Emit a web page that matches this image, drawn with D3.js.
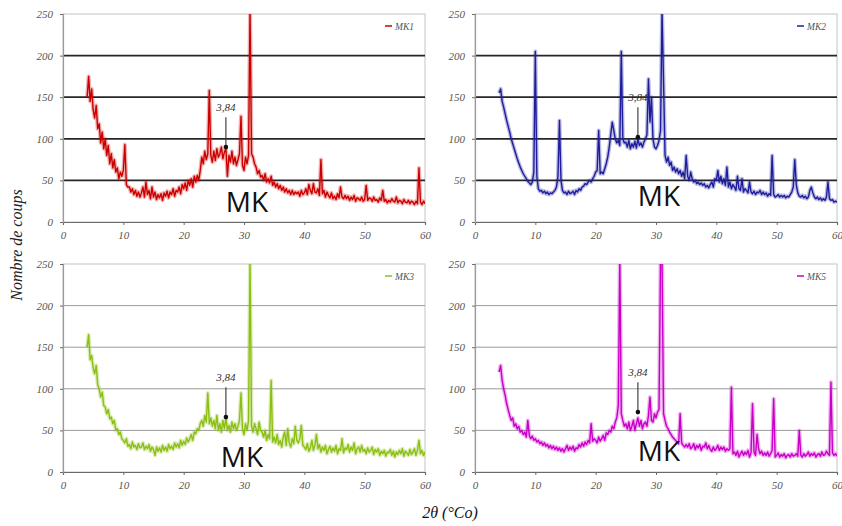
<!DOCTYPE html>
<html>
<head>
<meta charset="utf-8">
<script src="https://cdn.jsdelivr.net/npm/d3@7"></script>
<style>
  body { margin: 0; background: #fff; }
  svg { display: block; }
</style>
</head>
<body>
<svg id="chart" width="842" height="526"></svg>
<script>
// Scan angles 2θ (°), step 0.25°
const angles = [
  4,4.25,4.5,4.75, 5,5.25,5.5,5.75, 6,6.25,6.5,6.75, 7,7.25,7.5,7.75,
  8,8.25,8.5,8.75, 9,9.25,9.5,9.75, 10,10.25,10.5,10.75, 11,11.25,11.5,11.75,
  12,12.25,12.5,12.75, 13,13.25,13.5,13.75, 14,14.25,14.5,14.75, 15,15.25,15.5,15.75,
  16,16.25,16.5,16.75, 17,17.25,17.5,17.75, 18,18.25,18.5,18.75, 19,19.25,19.5,19.75,
  20,20.25,20.5,20.75, 21,21.25,21.5,21.75, 22,22.25,22.5,22.75, 23,23.25,23.5,23.75,
  24,24.25,24.5,24.75, 25,25.25,25.5,25.75, 26,26.25,26.5,26.75, 27,27.25,27.5,27.75,
  28,28.25,28.5,28.75, 29,29.25,29.5,29.75, 30,30.25,30.5,30.75, 31,31.25,31.5,31.75,
  32,32.25,32.5,32.75, 33,33.25,33.5,33.75, 34,34.25,34.5,34.75, 35,35.25,35.5,35.75,
  36,36.25,36.5,36.75, 37,37.25,37.5,37.75, 38,38.25,38.5,38.75, 39,39.25,39.5,39.75,
  40,40.25,40.5,40.75, 41,41.25,41.5,41.75, 42,42.25,42.5,42.75, 43,43.25,43.5,43.75,
  44,44.25,44.5,44.75, 45,45.25,45.5,45.75, 46,46.25,46.5,46.75, 47,47.25,47.5,47.75,
  48,48.25,48.5,48.75, 49,49.25,49.5,49.75, 50,50.25,50.5,50.75, 51,51.25,51.5,51.75,
  52,52.25,52.5,52.75, 53,53.25,53.5,53.75, 54,54.25,54.5,54.75, 55,55.25,55.5,55.75,
  56,56.25,56.5,56.75, 57,57.25,57.5,57.75, 58,58.25,58.5,58.75, 59,59.25,59.5,59.75,
  60
];

// Counts (nombre de coups) for each sample
const countsMK1 = [
  150,175,145,160, 135,125,140,112, 118,95,108,88, 100,80,92,70,
  82,65,75,60, 65,52,60,55, 62,93,45,42, 42,36,40,33,
  38,31,36,30, 35,42,30,48, 33,38,28,42, 30,36,27,33,
  29,34,26,35, 31,37,29,36, 33,40,31,38, 36,42,34,45,
  40,47,38,50, 44,52,42,55, 48,56,50,62, 78,70,85,75,
  82,158,80,72, 85,74,88,78, 82,90,76,84, 88,55,80,72,
  85,70,78,68, 75,82,127,68, 62,78,70,80, 255,82,78,70,
  66,58,62,54, 56,50,58,48, 52,47,55,44, 48,42,46,40,
  44,38,42,36, 40,35,38,33, 38,33,36,34, 36,31,38,33,
  35,40,33,45, 38,34,46,36, 35,40,32,75, 34,38,30,36,
  32,29,35,28, 31,27,34,29, 42,30,28,32, 28,31,26,30,
  27,32,25,29, 28,26,30,25, 27,44,26,29, 28,25,30,26,
  27,24,29,26, 38,25,27,23, 26,24,28,25, 24,30,23,26,
  25,22,27,24, 23,26,22,25, 24,21,25,22, 65,24,21,25,
  22
];
const countsMK2 = [
  155,160,145,138, 130,122,115,108, 100,94,88,82, 76,71,66,62,
  58,55,52,49, 47,45,48,60, 205,55,40,37, 38,35,37,34,
  36,33,35,34, 36,38,42,55, 122,50,38,35, 36,33,37,34,
  35,37,33,38, 36,40,38,42, 43,46,45,48, 50,48,52,55,
  60,62,110,58, 60,58,64,70, 78,90,105,120, 110,100,95,98,
  92,205,100,95, 96,90,98,88, 94,90,97,89, 100,92,95,90,
  96,100,105,172, 120,150,100,90, 88,92,98,110, 255,168,80,72,
  78,68,72,62, 66,60,64,58, 62,55,60,52, 80,55,50,60,
  52,48,50,46, 48,45,47,44, 46,42,44,41, 45,48,42,52,
  50,62,48,55, 46,52,44,66, 42,48,40,45, 42,38,55,40,
  38,52,36,40, 38,35,48,36, 34,37,33,36, 35,38,33,36,
  33,35,31,34, 32,80,33,30, 31,33,30,32, 30,32,29,31,
  30,33,36,42, 75,45,35,31, 30,32,29,31, 28,30,38,42,
  35,30,28,30, 27,29,26,28, 26,30,48,28, 26,27,24,25,
  24
];
const countsMK3 = [
  150,165,135,140, 125,118,128,105, 100,90,96,80, 78,70,75,64,
  66,58,62,50, 52,45,48,40, 38,35,40,31, 33,28,36,30,
  32,27,34,29, 30,35,27,31, 28,33,25,30, 27,20,30,25,
  29,24,32,26, 30,25,33,28, 31,27,35,30, 34,29,38,32,
  37,33,41,36, 40,45,38,48, 46,52,50,58, 62,55,68,60,
  95,58,65,55, 62,52,68,50, 58,48,62,52, 65,50,56,48,
  60,52,58,50, 55,62,95,52, 45,58,50,62, 255,55,48,58,
  52,45,60,50, 48,42,50,38, 45,40,110,36, 42,35,45,33,
  38,30,42,48, 32,52,35,30, 40,34,55,38, 35,40,56,32,
  30,27,34,25, 29,38,26,32, 45,28,33,24, 30,26,32,22,
  27,31,24,29, 25,32,22,28, 26,40,23,29, 27,33,24,30,
  26,35,22,28, 30,24,32,25, 27,22,29,24, 26,30,21,27,
  24,28,20,25, 22,26,19,24, 23,27,20,25, 18,24,21,26,
  22,28,19,25, 23,20,27,21, 24,28,20,26, 38,22,26,20,
  24
];
const countsMK5 = [
  120,128,110,100, 92,82,75,68, 62,65,55,58, 52,55,48,50,
  45,48,42,62, 44,40,43,38, 40,36,38,34, 36,32,35,31,
  33,29,32,28, 31,27,30,26, 29,25,28,24, 28,32,26,30,
  27,31,25,29, 28,33,30,35, 31,36,33,38, 35,58,37,40,
  38,35,42,37, 40,44,38,47, 45,50,48,55, 52,60,65,80,
  255,70,62,55, 58,52,60,50, 55,62,50,58, 65,55,62,52,
  58,60,55,68, 90,62,60,70, 65,72,75,255, 255,70,62,55,
  52,48,45,42, 40,38,36,34, 70,35,32,30, 33,30,34,28,
  30,34,27,32, 29,33,26,31, 30,35,28,32, 27,25,30,26,
  28,32,26,30, 27,30,25,28, 26,28,102,22, 24,20,25,18,
  22,25,20,24, 21,26,18,23, 82,24,20,45, 28,22,25,20,
  23,20,24,19, 22,26,88,18, 20,23,18,21, 19,22,17,20,
  21,18,22,19, 20,22,19,50, 20,18,22,19, 21,24,19,22,
  20,23,18,21, 22,19,24,20, 21,25,22,20, 108,23,20,22,
  19
];

const sampleNames  = ["MK1", "MK2", "MK3", "MK5"];
const sampleColors = ["#cc0000", "#1e1e9c", "#8cbf14", "#c800c8"];
const xTicks = [0, 10, 20, 30, 40, 50, 60];
const yTicks = [0, 50, 100, 150, 200, 250];
const gridValues = [50, 100, 150, 200];
const peakAngle = 27;
const peakLabel = "3,84";
const peakCounts = [90, 102, 66, 72];
const groupLabel = "MK";

const allCounts = [countsMK1, countsMK2, countsMK3, countsMK5];

const svg = d3.select("#chart");
const serif = "'Liberation Serif', 'Times New Roman', serif";

// Plot-area boxes of the 2x2 grid of diffractograms
const panels = [
  { left: 63,  right: 425, top: 14,  bottom: 222, heavyGrid: true,  mk: [247, 212] },
  { left: 475, right: 837, top: 14,  bottom: 222, heavyGrid: true,  mk: [659, 206] },
  { left: 63,  right: 425, top: 264, bottom: 472, heavyGrid: false, mk: [242, 467] },
  { left: 475, right: 837, top: 264, bottom: 472, heavyGrid: false, mk: [659, 461] }
];

panels.forEach((p, i) => {
  const x = d3.scaleLinear().domain([0, 60]).range([p.left, p.right]);
  const y = d3.scaleLinear().domain([0, 250]).range([p.bottom, p.top]);
  const g = svg.append("g");

  // plot-area frame
  g.append("rect")
    .attr("x", p.left).attr("y", p.top)
    .attr("width", p.right - p.left).attr("height", p.bottom - p.top)
    .attr("fill", "none").attr("stroke", "#c4c4c4").attr("stroke-width", 1);

  // horizontal gridlines
  g.selectAll("line.grid").data(gridValues).join("line")
    .attr("class", "grid")
    .attr("x1", p.left).attr("x2", p.right)
    .attr("y1", d => y(d)).attr("y2", d => y(d))
    .attr("stroke", p.heavyGrid ? "#262626" : "#9a9a9a")
    .attr("stroke-width", p.heavyGrid ? 1.8 : 1);

  // axes
  const xAxis = g.append("g")
    .attr("transform", `translate(0,${p.bottom})`)
    .call(d3.axisBottom(x).tickValues(xTicks).tickSize(3).tickPadding(6).tickFormat(d3.format("d")));
  const yAxis = g.append("g")
    .attr("transform", `translate(${p.left},0)`)
    .call(d3.axisLeft(y).tickValues(yTicks).tickSize(3).tickPadding(7).tickFormat(d3.format("d")));
  [xAxis, yAxis].forEach(a => {
    a.select(".domain").attr("stroke", "#6a6a6a").attr("stroke-width", 1.2);
    a.selectAll(".tick line").attr("stroke", "#6a6a6a");
    a.selectAll(".tick text")
      .attr("fill", "#555")
      .style("font-family", serif)
      .style("font-style", "italic")
      .style("font-size", "11px");
  });
  yAxis.select(".domain").attr("stroke", "#9a9a9a");

  // clip to plot area
  const clipId = "clip" + i;
  svg.append("clipPath").attr("id", clipId)
    .append("rect")
    .attr("x", p.left).attr("y", p.top)
    .attr("width", p.right - p.left).attr("height", p.bottom - p.top);

  const line = d3.line()
    .x((d, j) => x(angles[j]))
    .y(d => y(d));

  const trace = g.append("g").attr("clip-path", `url(#${clipId})`);
  trace.append("path")
    .datum(allCounts[i])
    .attr("d", line)
    .attr("fill", "none")
    .attr("stroke", sampleColors[i])
    .attr("stroke-opacity", 0.3)
    .attr("stroke-width", 4)
    .attr("stroke-linejoin", "round");
  trace.append("path")
    .datum(allCounts[i])
    .attr("d", line)
    .attr("fill", "none")
    .attr("stroke", sampleColors[i])
    .attr("stroke-width", 1.4)
    .attr("stroke-linejoin", "round");

  // 3,84 Å reflection marker
  const c = peakCounts[i];
  const xm = x(peakAngle);
  g.append("line")
    .attr("x1", xm).attr("x2", xm)
    .attr("y1", y(c + 36)).attr("y2", y(c))
    .attr("stroke", "#333").attr("stroke-width", 1.1);
  g.append("circle")
    .attr("cx", xm).attr("cy", y(c)).attr("r", 2.3)
    .attr("fill", "#111");
  g.append("text")
    .attr("x", xm).attr("y", y(c + 36) - 6)
    .attr("text-anchor", "middle")
    .attr("fill", "#333")
    .style("font-family", serif)
    .style("font-style", "italic")
    .style("font-size", "11px")
    .text(peakLabel);

  // legend entry
  const ly = p.top + 12;
  g.append("line")
    .attr("x1", p.right - 40).attr("x2", p.right - 33)
    .attr("y1", ly).attr("y2", ly)
    .attr("stroke", sampleColors[i]).attr("stroke-width", 1.5);
  g.append("text")
    .attr("x", p.right - 30).attr("y", ly + 3.5)
    .attr("fill", "#555")
    .style("font-family", serif)
    .style("font-style", "italic")
    .style("font-size", "9.5px")
    .text(sampleNames[i]);

  // group label
  g.append("text")
    .attr("x", p.mk[0]).attr("y", p.mk[1])
    .attr("text-anchor", "middle")
    .attr("fill", "#111")
    .style("font-family", "'Open Sans', 'Noto Sans', sans-serif")
    .style("font-size", "28px")
    .text(groupLabel);
});

// axis titles
svg.append("text")
  .attr("transform", "translate(22,245) rotate(-90)")
  .attr("text-anchor", "middle")
  .attr("fill", "#222")
  .style("font-family", serif)
  .style("font-style", "italic")
  .style("font-size", "16px")
  .text("Nombre de coups");

svg.append("text")
  .attr("x", 450).attr("y", 518)
  .attr("text-anchor", "middle")
  .attr("fill", "#111")
  .style("font-family", serif)
  .style("font-style", "italic")
  .style("font-size", "16px")
  .text("2θ (°Co)");
</script>
</body>
</html>
